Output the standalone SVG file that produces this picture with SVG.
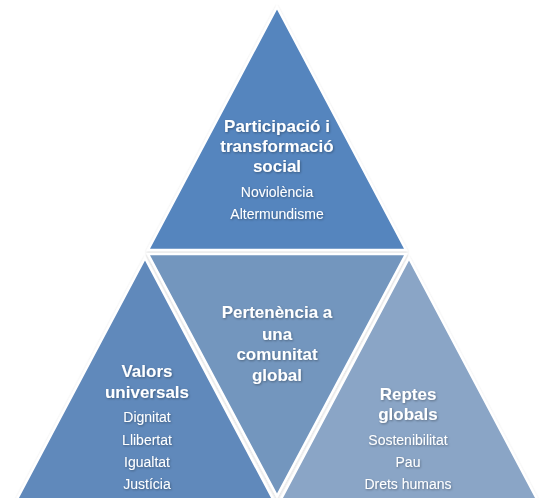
<svg xmlns="http://www.w3.org/2000/svg" width="541" height="498" viewBox="0 0 541 498">
  <defs>
    <filter id="ts" x="-10%" y="-30%" width="120%" height="160%">
      <feDropShadow dx="0.8" dy="1" stdDeviation="0.8" flood-color="#000" flood-opacity="0.35"/>
    </filter>
    <filter id="sh" x="-10%" y="-10%" width="120%" height="120%">
      <feDropShadow dx="0" dy="1" stdDeviation="1.2" flood-color="#000" flood-opacity="0.2"/>
    </filter>
  </defs>
  <style>
    .tri { stroke: #ffffff; stroke-width: 2.5; stroke-linejoin: miter; filter: url(#sh); }
    .t1 { fill: #5585be; }
    .t2 { fill: #7396be; }
    .t3 { fill: #6189bb; }
    .t4 { fill: #8aa5c6; }
    text { font-family: "Liberation Sans", Arial, sans-serif; fill: #ffffff; text-anchor: middle; filter: url(#ts); }
    .h { font-size: 17px; font-weight: bold; }
    .s { font-size: 14px; }
  </style>
  <rect width="541" height="498" fill="#ffffff"/>

  <g id="top">
    <polygon class="tri t1" points="277,7 406,250 148,250"/>
    <text class="h" x="277" y="132">Participació i</text>
    <text class="h" x="277" y="152">transformació</text>
    <text class="h" x="277" y="172">social</text>
    <text class="s" x="277" y="197">Noviolència</text>
    <text class="s" x="277" y="219">Altermundisme</text>
  </g>

  <g id="middle">
    <polygon class="tri t2" points="148,254 406,254 277,496"/>
    <text class="h" x="277" y="318">Pertenència a</text>
    <text class="h" x="277" y="340">una</text>
    <text class="h" x="277" y="360">comunitat</text>
    <text class="h" x="277" y="381">global</text>
  </g>

  <g id="left">
    <polygon class="tri t3" points="145,258 274,501 16,501"/>
    <text class="h" x="147" y="377">Valors</text>
    <text class="h" x="147" y="398">universals</text>
    <text class="s" x="147" y="422">Dignitat</text>
    <text class="s" x="147" y="445">Llibertat</text>
    <text class="s" x="147" y="467">Igualtat</text>
    <text class="s" x="147" y="489">Justícia</text>
  </g>

  <g id="right">
    <polygon class="tri t4" points="409,258 538,501 280,501"/>
    <text class="h" x="408" y="400">Reptes</text>
    <text class="h" x="408" y="420">globals</text>
    <text class="s" x="408" y="445">Sostenibilitat</text>
    <text class="s" x="408" y="467">Pau</text>
    <text class="s" x="408" y="489">Drets humans</text>
  </g>

  <g id="connectors"></g>
</svg>
